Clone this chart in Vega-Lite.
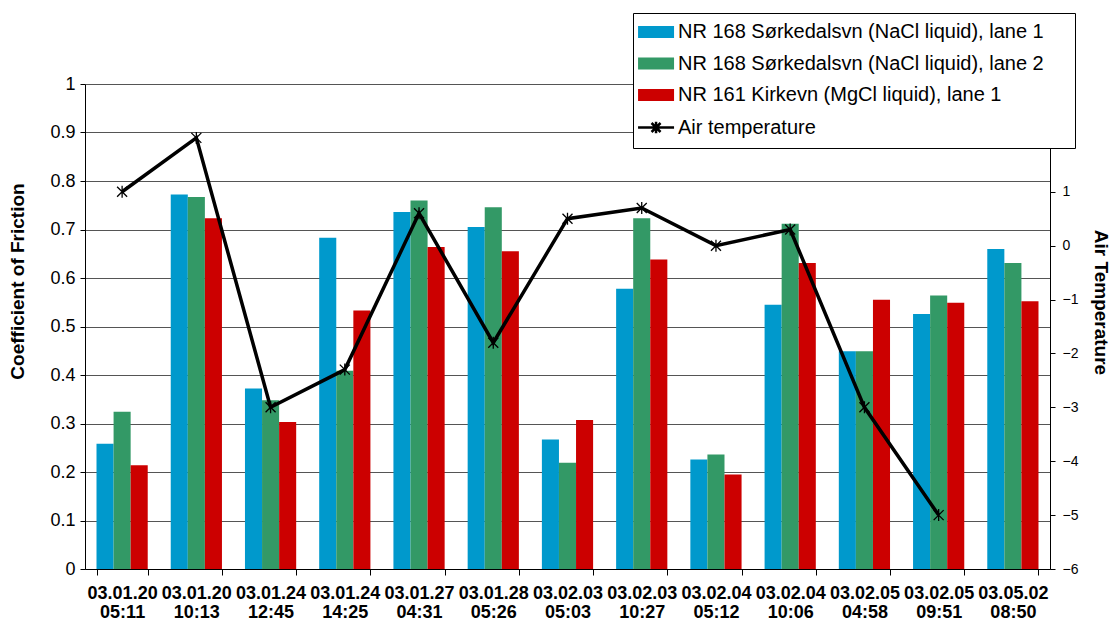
{
  "$schema": "https://vega.github.io/schema/vega-lite/v6.json",
  "width": 965,
  "height": 485,
  "autosize": {"type": "none"},
  "padding": {"left": 85, "top": 84, "right": 61, "bottom": 53},
  "background": "white",
  "config": {"font": "Liberation Sans", "view": {"stroke": null}},
  "datasets": {
    "bars": [
      {"t": "03.01.20 05:11", "s": "NR 168 Sørkedalsvn (NaCl liquid), lane 1", "v": 0.258},
      {"t": "03.01.20 05:11", "s": "NR 168 Sørkedalsvn (NaCl liquid), lane 2", "v": 0.324},
      {"t": "03.01.20 05:11", "s": "NR 161 Kirkevn (MgCl liquid), lane 1", "v": 0.214},
      {"t": "03.01.20 10:13", "s": "NR 168 Sørkedalsvn (NaCl liquid), lane 1", "v": 0.772},
      {"t": "03.01.20 10:13", "s": "NR 168 Sørkedalsvn (NaCl liquid), lane 2", "v": 0.767},
      {"t": "03.01.20 10:13", "s": "NR 161 Kirkevn (MgCl liquid), lane 1", "v": 0.723},
      {"t": "03.01.24 12:45", "s": "NR 168 Sørkedalsvn (NaCl liquid), lane 1", "v": 0.372},
      {"t": "03.01.24 12:45", "s": "NR 168 Sørkedalsvn (NaCl liquid), lane 2", "v": 0.348},
      {"t": "03.01.24 12:45", "s": "NR 161 Kirkevn (MgCl liquid), lane 1", "v": 0.303},
      {"t": "03.01.24 14:25", "s": "NR 168 Sørkedalsvn (NaCl liquid), lane 1", "v": 0.683},
      {"t": "03.01.24 14:25", "s": "NR 168 Sørkedalsvn (NaCl liquid), lane 2", "v": 0.409},
      {"t": "03.01.24 14:25", "s": "NR 161 Kirkevn (MgCl liquid), lane 1", "v": 0.533},
      {"t": "03.01.27 04:31", "s": "NR 168 Sørkedalsvn (NaCl liquid), lane 1", "v": 0.736},
      {"t": "03.01.27 04:31", "s": "NR 168 Sørkedalsvn (NaCl liquid), lane 2", "v": 0.760},
      {"t": "03.01.27 04:31", "s": "NR 161 Kirkevn (MgCl liquid), lane 1", "v": 0.664},
      {"t": "03.01.28 05:26", "s": "NR 168 Sørkedalsvn (NaCl liquid), lane 1", "v": 0.705},
      {"t": "03.01.28 05:26", "s": "NR 168 Sørkedalsvn (NaCl liquid), lane 2", "v": 0.746},
      {"t": "03.01.28 05:26", "s": "NR 161 Kirkevn (MgCl liquid), lane 1", "v": 0.655},
      {"t": "03.02.03 05:03", "s": "NR 168 Sørkedalsvn (NaCl liquid), lane 1", "v": 0.267},
      {"t": "03.02.03 05:03", "s": "NR 168 Sørkedalsvn (NaCl liquid), lane 2", "v": 0.219},
      {"t": "03.02.03 05:03", "s": "NR 161 Kirkevn (MgCl liquid), lane 1", "v": 0.307},
      {"t": "03.02.03 10:27", "s": "NR 168 Sørkedalsvn (NaCl liquid), lane 1", "v": 0.578},
      {"t": "03.02.03 10:27", "s": "NR 168 Sørkedalsvn (NaCl liquid), lane 2", "v": 0.723},
      {"t": "03.02.03 10:27", "s": "NR 161 Kirkevn (MgCl liquid), lane 1", "v": 0.638},
      {"t": "03.02.04 05:12", "s": "NR 168 Sørkedalsvn (NaCl liquid), lane 1", "v": 0.226},
      {"t": "03.02.04 05:12", "s": "NR 168 Sørkedalsvn (NaCl liquid), lane 2", "v": 0.236},
      {"t": "03.02.04 05:12", "s": "NR 161 Kirkevn (MgCl liquid), lane 1", "v": 0.195},
      {"t": "03.02.04 10:06", "s": "NR 168 Sørkedalsvn (NaCl liquid), lane 1", "v": 0.545},
      {"t": "03.02.04 10:06", "s": "NR 168 Sørkedalsvn (NaCl liquid), lane 2", "v": 0.712},
      {"t": "03.02.04 10:06", "s": "NR 161 Kirkevn (MgCl liquid), lane 1", "v": 0.631},
      {"t": "03.02.05 04:58", "s": "NR 168 Sørkedalsvn (NaCl liquid), lane 1", "v": 0.449},
      {"t": "03.02.05 04:58", "s": "NR 168 Sørkedalsvn (NaCl liquid), lane 2", "v": 0.449},
      {"t": "03.02.05 04:58", "s": "NR 161 Kirkevn (MgCl liquid), lane 1", "v": 0.555},
      {"t": "03.02.05 09:51", "s": "NR 168 Sørkedalsvn (NaCl liquid), lane 1", "v": 0.526},
      {"t": "03.02.05 09:51", "s": "NR 168 Sørkedalsvn (NaCl liquid), lane 2", "v": 0.564},
      {"t": "03.02.05 09:51", "s": "NR 161 Kirkevn (MgCl liquid), lane 1", "v": 0.549},
      {"t": "03.05.02 08:50", "s": "NR 168 Sørkedalsvn (NaCl liquid), lane 1", "v": 0.660},
      {"t": "03.05.02 08:50", "s": "NR 168 Sørkedalsvn (NaCl liquid), lane 2", "v": 0.631},
      {"t": "03.05.02 08:50", "s": "NR 161 Kirkevn (MgCl liquid), lane 1", "v": 0.552}
    ],
    "temp": [
      {"t": "03.01.20 05:11", "s": "Air temperature", "temp": 1},
      {"t": "03.01.20 10:13", "s": "Air temperature", "temp": 2},
      {"t": "03.01.24 12:45", "s": "Air temperature", "temp": -3},
      {"t": "03.01.24 14:25", "s": "Air temperature", "temp": -2.3},
      {"t": "03.01.27 04:31", "s": "Air temperature", "temp": 0.6},
      {"t": "03.01.28 05:26", "s": "Air temperature", "temp": -1.8},
      {"t": "03.02.03 05:03", "s": "Air temperature", "temp": 0.5},
      {"t": "03.02.03 10:27", "s": "Air temperature", "temp": 0.7},
      {"t": "03.02.04 05:12", "s": "Air temperature", "temp": 0},
      {"t": "03.02.04 10:06", "s": "Air temperature", "temp": 0.3},
      {"t": "03.02.05 04:58", "s": "Air temperature", "temp": -3},
      {"t": "03.02.05 09:51", "s": "Air temperature", "temp": -5}
    ]
  },
  "layer": [
    {
      "data": {"name": "bars"},
      "mark": {"type": "bar"},
      "encoding": {
        "x": {
          "field": "t", "type": "nominal", "title": null,
          "scale": {
            "domain": ["03.01.20 05:11", "03.01.20 10:13", "03.01.24 12:45", "03.01.24 14:25", "03.01.27 04:31", "03.01.28 05:26", "03.02.03 05:03", "03.02.03 10:27", "03.02.04 05:12", "03.02.04 10:06", "03.02.05 04:58", "03.02.05 09:51", "03.05.02 08:50"],
            "paddingInner": 0.31, "paddingOuter": 0.155
          },
          "axis": {
            "labelExpr": "split(datum.label, ' ')",
            "labelAngle": 0,
            "labelFontSize": 18,
            "labelFontWeight": "bold",
            "labelColor": "black",
            "labelLineHeight": 19,
            "labelPadding": 9,
            "labelBaseline": "top",
            "tickBand": "extent",
            "tickSize": 6,
            "tickColor": "black",
            "domainColor": "black",
            "grid": false
          }
        },
        "xOffset": {
          "field": "s", "type": "nominal",
          "scale": {
            "domain": ["NR 168 Sørkedalsvn (NaCl liquid), lane 1", "NR 168 Sørkedalsvn (NaCl liquid), lane 2", "NR 161 Kirkevn (MgCl liquid), lane 1"],
            "paddingInner": 0, "paddingOuter": 0
          }
        },
        "y": {
          "field": "v", "type": "quantitative",
          "scale": {"domain": [0, 1], "nice": false},
          "axis": {
            "title": "Coefficient of Friction",
            "values": [0, 0.1, 0.2, 0.3, 0.4, 0.5, 0.6, 0.7, 0.8, 0.9, 1],
            "format": "~g",
            "labelFontSize": 18,
            "labelColor": "black",
            "labelPadding": 5,
            "tickSize": 5,
            "tickColor": "black",
            "domainColor": "black",
            "grid": true,
            "gridColor": "#555555",
            "titleFontSize": 19,
            "titleFontWeight": "bold",
            "titleColor": "black",
            "titleBaseline": "middle",
            "titleX": -68,
            "titleY": 197
          }
        },
        "color": {
          "field": "s", "type": "nominal",
          "scale": {
            "domain": ["NR 168 Sørkedalsvn (NaCl liquid), lane 1", "NR 168 Sørkedalsvn (NaCl liquid), lane 2", "NR 161 Kirkevn (MgCl liquid), lane 1", "Air temperature"],
            "range": ["#0099CC", "#339966", "#CC0000", "#000000"]
          },
          "legend": {
            "title": " ",
            "titleOrient": "right",
            "titlePadding": 22,
            "titleFontSize": 8,
            "orient": "none",
            "legendX": 548,
            "legendY": -71,
            "fillColor": "white",
            "strokeColor": "black",
            "padding": 9,
            "labelFontSize": 20,
            "labelColor": "black",
            "labelLimit": 500,
            "symbolSize": 900,
            "rowPadding": 11.5,
            "labelOffset": 16,
            "zindex": 5,
            "encode": {
              "symbols": {
                "update": {
                  "shape": {"signal": "datum.value === 'Air temperature' ? 'M-0.93,0H1.47M-0.03,-0.3L0.57,0.3M-0.03,0.3L0.57,-0.3M0.27,-0.38V0.38' : 'M-0.93,-0.4H1.47V0.4H-0.93Z'"},
                  "fill": {"signal": "datum.value === 'Air temperature' ? 'transparent' : ['#0099CC', '#339966', '#CC0000', '#000000'][datum.index]"},
                  "stroke": {"signal": "datum.value === 'Air temperature' ? '#000000' : ['#0099CC', '#339966', '#CC0000', '#000000'][datum.index]"},
                  "strokeWidth": {"signal": "datum.value === 'Air temperature' ? 2.5 : 0"},
                  "opacity": {"value": 1},
                  "size": {"value": 900}
                }
              }
            }
          }
        }
      }
    },
    {
      "data": {"name": "temp"},
      "layer": [
        {
          "mark": {"type": "line", "strokeWidth": 3.5},
          "encoding": {
            "x": {"field": "t", "type": "nominal"},
            "y": {
              "field": "temp", "type": "quantitative",
              "scale": {"domain": [-6, 3], "nice": false},
              "axis": {
                "orient": "right",
                "title": "Air Temperature",
                "values": [-6, -5, -4, -3, -2, -1, 0, 1, 2, 3],
                "format": "d",
                "labelExpr": "datum.value > 1 ? '' : datum.label",
                "labelFontSize": 14,
                "labelColor": "black",
                "labelPadding": 7,
                "tickSize": 5,
                "tickColor": "black",
                "domainColor": "black",
                "grid": false,
                "titleFontSize": 19,
                "titleFontWeight": "bold",
                "titleColor": "black",
                "titleBaseline": "middle",
                "titleAngle": 90,
                "titleX": 50,
                "titleY": 218
              }
            },
            "color": {"field": "s", "type": "nominal"}
          }
        },
        {
          "mark": {"type": "point", "shape": "M-1,-1L1,1M-1,1L1,-1M0,-1.2V1.2", "filled": false, "size": 100, "stroke": "black", "strokeWidth": 1.3, "opacity": 1},
          "encoding": {
            "x": {"field": "t", "type": "nominal"},
            "y": {"field": "temp", "type": "quantitative"}
          }
        }
      ]
    }
  ],
  "resolve": {"scale": {"y": "independent"}}
}
